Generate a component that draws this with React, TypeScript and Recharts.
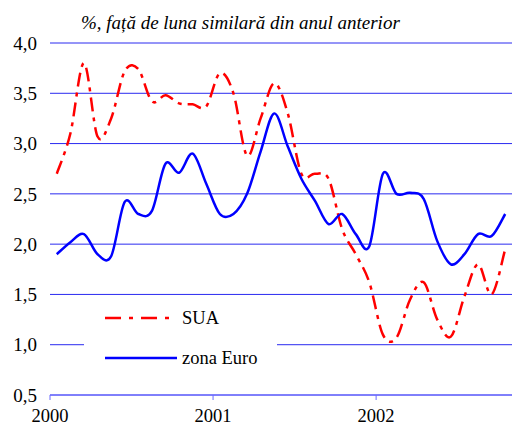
import { LineChart, Line, XAxis, YAxis, CartesianGrid, Legend } from "recharts";

// monthly, Jan 2000 - Oct 2002
const SUA = [
  2.7, 3.1, 3.8, 3.07, 3.25, 3.72, 3.74, 3.42, 3.48, 3.4, 3.39, 3.37,
  3.7, 3.5, 2.88, 3.25, 3.6, 3.3, 2.7, 2.7, 2.65, 2.15, 1.9, 1.62,
  1.1, 1.07, 1.45, 1.62, 1.25, 1.08, 1.48, 1.8, 1.5, 1.95,
];
const EURO = [
  1.9, 2.02, 2.1, 1.9, 1.88, 2.42, 2.3, 2.33, 2.8, 2.71, 2.9, 2.6,
  2.3, 2.3, 2.5, 2.92, 3.3, 2.97, 2.65, 2.43, 2.2, 2.3, 2.1, 1.98,
  2.7, 2.5, 2.51, 2.45, 2.03, 1.8, 1.9, 2.1, 2.08, 2.3,
];
const YEARS = ["2000", "2001", "2002"];
const Y_TICKS = [0.5, 1, 1.5, 2, 2.5, 3, 3.5, 4];

const data = SUA.map((v, i) => ({ m: i + 0.5, sua: v, euro: EURO[i] }));

const FONT = "'Liberation Serif', 'Times New Roman', serif";

// smoothed line like the spreadsheet one (Catmull-Rom through the points)
const smooth = (context: any) => {
  let pts: number[][] = [];
  return {
    areaStart() {},
    areaEnd() {},
    lineStart() {
      pts = [];
    },
    lineEnd() {
      if (!pts.length) return;
      context.moveTo(pts[0][0], pts[0][1]);
      for (let i = 0; i < pts.length - 1; i++) {
        const p0 = pts[i - 1] || pts[i];
        const p1 = pts[i];
        const p2 = pts[i + 1];
        const p3 = pts[i + 2] || p2;
        context.bezierCurveTo(
          p1[0] + (p2[0] - p0[0]) / 6,
          p1[1] + (p2[1] - p0[1]) / 6,
          p2[0] - (p3[0] - p1[0]) / 6,
          p2[1] - (p3[1] - p1[1]) / 6,
          p2[0],
          p2[1]
        );
      }
    },
    point(x: number, y: number) {
      pts.push([+x, +y]);
    },
  };
};

function LegendBox() {
  return (
    <svg width={193} height={78} style={{ display: "block" }}>
      <line x1={21} y1={18} x2={89} y2={18} stroke="#ff0000" strokeWidth={2.5} strokeDasharray="16 8 4 8" />
      <text x={98} y={18} dy="0.35em" fontFamily={FONT} fontSize={18.5} fill="#000">
        SUA
      </text>
      <line x1={21} y1={58} x2={93} y2={58} stroke="#0000ff" strokeWidth={2.5} />
      <text x={98} y={58} dy="0.35em" fontFamily={FONT} fontSize={18.5} fill="#000">
        zona Euro
      </text>
    </svg>
  );
}

export default function App() {
  return (
    <div style={{ position: "absolute", left: 0, top: 0, width: 512, height: 426, background: "#fff" }}>
      <LineChart width={512} height={426} data={data} margin={{ top: 43, right: 0, bottom: 0, left: 0 }}>
        <CartesianGrid horizontal vertical={false} stroke="#2a2af0" strokeWidth={1} />
        <XAxis
          type="number"
          dataKey="m"
          domain={[0, 34]}
          ticks={[0, 12, 24]}
          tickFormatter={(v: number) => YEARS[v / 12]}
          height={31}
          stroke="#6a6aff"
          tickSize={5}
          tickMargin={9}
          tick={{ fill: "#000", fontFamily: FONT, fontSize: 18.5 }}
        />
        <YAxis
          type="number"
          domain={[0.5, 4]}
          ticks={Y_TICKS}
          tickFormatter={(v: number) => v.toFixed(1).replace(".", ",")}
          width={50}
          axisLine={false}
          tickLine={false}
          tickSize={6}
          tickMargin={7}
          tick={{ fill: "#000", fontFamily: FONT, fontSize: 19 }}
        />
        <Legend
          layout="vertical"
          verticalAlign="middle"
          align="center"
          content={() => <LegendBox />}
          wrapperStyle={{ left: 84, top: 300, width: 193, height: 78, background: "#fff" }}
        />
        <Line
          type={smooth as any}
          dataKey="sua"
          name="SUA"
          stroke="#ff0000"
          strokeWidth={2.5}
          strokeDasharray="14 6 4 6"
          dot={false}
          isAnimationActive={false}
        />
        <Line
          type={smooth as any}
          dataKey="euro"
          name="zona Euro"
          stroke="#0000ff"
          strokeWidth={2.5}
          dot={false}
          isAnimationActive={false}
        />
      </LineChart>
      <div
        style={{
          position: "absolute",
          left: 81,
          top: 12,
          fontFamily: FONT,
          fontStyle: "italic",
          fontSize: 19,
          whiteSpace: "nowrap",
          color: "#000",
        }}
      >
        %, față de luna similară din anul anterior
      </div>
    </div>
  );
}
